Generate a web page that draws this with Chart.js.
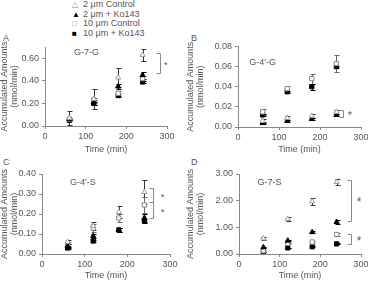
<!DOCTYPE html>
<html>
<head>
<meta charset="utf-8">
<script src="https://cdn.jsdelivr.net/npm/chart.js@4.4.0/dist/chart.umd.min.js"></script>
<style>
body { margin:0; width:373px; height:281px; background:#fff; position:relative; overflow:hidden;
       font-family:"Liberation Sans", Arial, sans-serif; color:#555; }
.panel { position:absolute; }
.lbl { position:absolute; font-size:9px; color:#555; }
#legend { position:absolute; left:72px; top:0px; font-size:9px; line-height:9.5px; color:#555; white-space:nowrap; }
#legend .m { display:inline-block; width:11px; font-size:8px; }
</style>
</head>
<body>
<div id="legend"></div>
<div class="lbl" style="left:3px;top:33px">A</div>
<div class="lbl" style="left:191px;top:33px">B</div>
<div class="lbl" style="left:3px;top:157px">C</div>
<div class="lbl" style="left:191px;top:157px">D</div>
<div class="panel" style="left:0px;top:38px"><canvas id="cA" width="186" height="117"></canvas></div>
<div class="panel" style="left:186px;top:38px"><canvas id="cB" width="187" height="117"></canvas></div>
<div class="panel" style="left:0px;top:160px"><canvas id="cC" width="186" height="121"></canvas></div>
<div class="panel" style="left:186px;top:160px"><canvas id="cD" width="187" height="121"></canvas></div>
<script>
// sampling times (min)
const times = [60, 120, 180, 240];
const seriesNames = ['2 \u03bcm Control', '2 \u03bcm + Ko143', '10 \u03bcm Control', '10 \u03bcm + Ko143'];

// A: G-7-G
const a2Ctrl = [0.07, 0.24, 0.43, 0.63];   const a2CtrlErr = [0.06, 0.09, 0.08, 0.05];
const a2Ko = [0.06, 0.21, 0.35, 0.45];     const a2KoErr = [0.01, 0.02, 0.02, 0.03];
const a10Ctrl = [0.06, 0.23, 0.29, 0.42];  const a10CtrlErr = [0.01, 0.02, 0.02, 0.02];
const a10Ko = [0.05, 0.20, 0.27, 0.39];    const a10KoErr = [0.01, 0.01, 0.01, 0.01];

// B: G-4'-G
const b2Ctrl = [0.006, 0.009, 0.011, 0.015];  const b2CtrlErr = [0.002, 0.002, 0.002, 0.002];
const b2Ko = [0.004, 0.006, 0.008, 0.012];    const b2KoErr = [0.001, 0.001, 0.001, 0.001];
const b10Ctrl = [0.015, 0.038, 0.048, 0.063]; const b10CtrlErr = [0.003, 0.003, 0.005, 0.008];
const b10Ko = [0.012, 0.035, 0.040, 0.060];   const b10KoErr = [0.001, 0.001, 0.003, 0.001];

// C: G-4'-S
const c2Ctrl = [0.06, 0.14, 0.21, 0.31];    const c2CtrlErr = [0.01, 0.02, 0.03, 0.06];
const c2Ko = [0.04, 0.09, 0.12, 0.18];      const c2KoErr = [0.01, 0.01, 0.01, 0.02];
const c10Ctrl = [0.05, 0.13, 0.18, 0.245];  const c10CtrlErr = [0.01, 0.02, 0.02, 0.04];
const c10Ko = [0.03, 0.065, 0.12, 0.165];   const c10KoErr = [0.005, 0.005, 0.01, 0.01];

// D: G-7-S
const d2Ctrl = [0.58, 1.32, 1.97, 2.70];  const d2CtrlErr = [0.05, 0.07, 0.12, 0.12];
const d2Ko = [0.25, 0.50, 0.82, 1.20];    const d2KoErr = [0.02, 0.03, 0.03, 0.07];
const d10Ctrl = [0.12, 0.40, 0.45, 0.73]; const d10CtrlErr = [0.02, 0.03, 0.03, 0.07];
const d10Ko = [0.07, 0.23, 0.27, 0.38];   const d10KoErr = [0.01, 0.01, 0.02, 0.02];

// significance brackets [low, high] per panel
const aBrackets = [[0.47, 0.65]];
const bBrackets = [[0.010, 0.017]];
const cBrackets = [[0.26, 0.33], [0.18, 0.26]];
const dBrackets = [[1.22, 2.78], [0.38, 0.75]];

const markerStyles = [
    { pointStyle: 'triangle', backgroundColor: '#fff', borderColor: '#999', errColor: '#333' },
    { pointStyle: 'triangle', backgroundColor: '#000', borderColor: '#000', errColor: '#000' },
    { pointStyle: 'rect', backgroundColor: '#fff', borderColor: '#888', errColor: '#666' },
    { pointStyle: 'rect', backgroundColor: '#000', borderColor: '#000', errColor: '#000' }
];

// legend
let lg = '';
const glyphs = ['<span class="m" style="color:#888">\u25b3</span>', '<span class="m" style="color:#000">\u25b2</span>',
                '<span class="m" style="color:#888">\u25a1</span>', '<span class="m" style="color:#000">\u25a0</span>'];
for (let i in seriesNames) {
    lg += '<div>' + glyphs[i] + seriesNames[i] + '</div>';
}
document.getElementById('legend').innerHTML = lg;

const errorBars = {
    id: 'errorBars',
    beforeDatasetsDraw(chart) {
        const ctx = chart.ctx, x = chart.scales.x, y = chart.scales.y;
        ctx.save();
        ctx.lineWidth = 1;
        chart.data.datasets.forEach(function (ds) {
            ds.data.forEach(function (p, i) {
                let e = ds.errors[i];
                let px = Math.round(x.getPixelForValue(p.x)) + 0.5;
                let top = Math.round(y.getPixelForValue(p.y + e)) + 0.5;
                let bot = Math.round(y.getPixelForValue(Math.max(p.y - e, 0))) + 0.5;
                ctx.strokeStyle = ds.errColor;
                ctx.beginPath();
                ctx.moveTo(px, top); ctx.lineTo(px, bot);
                ctx.moveTo(px - 2, top); ctx.lineTo(px + 3, top);
                ctx.moveTo(px - 2, bot); ctx.lineTo(px + 3, bot);
                ctx.stroke();
            });
        });
        ctx.restore();
    }
};

const extras = {
    id: 'extras',
    afterDraw(chart) {
        const o = chart.options.plugins.extras;
        const ctx = chart.ctx, x = chart.scales.x, y = chart.scales.y, ca = chart.chartArea;
        ctx.save();
        ctx.fillStyle = '#555';
        ctx.font = '9px "Liberation Sans", Arial, sans-serif';
        ctx.textAlign = 'center';
        ctx.textBaseline = 'middle';
        ctx.fillText(o.title, ca.left + o.titleX * (ca.right - ca.left), ca.top + o.titleY);
        ctx.strokeStyle = '#888';
        ctx.lineWidth = 1;
        o.brackets.forEach(function (b) {
            let bx = Math.round(x.getPixelForValue(o.bracketT)) + 0.5;
            let y1 = Math.round(y.getPixelForValue(b[0])) + 0.5;
            let y2 = Math.round(y.getPixelForValue(b[1])) + 0.5;
            ctx.beginPath();
            ctx.moveTo(bx - 4, y1); ctx.lineTo(bx, y1); ctx.lineTo(bx, y2); ctx.lineTo(bx - 4, y2);
            ctx.stroke();
            ctx.font = o.starSize + 'px "Liberation Sans", Arial, sans-serif';
            ctx.fillText('*', x.getPixelForValue(o.starT), (y1 + y2) / 2 + 2);
        });
        ctx.restore();
    }
};

function makePanel(id, cfg) {
    let sets = [];
    for (let s = 0; s < 4; s++) {
        let pts = [];
        for (let i in times) pts.push({ x: times[i], y: cfg.values[s][i] });
        sets.push(Object.assign({
            label: seriesNames[s],
            data: pts,
            errors: cfg.errors[s],
            pointRadius: 3,
            borderWidth: 1,
            showLine: false
        }, markerStyles[s]));
    }
    const tickFont = { family: '"Liberation Sans", Arial, sans-serif', size: 9 };
    return new Chart(document.getElementById(id), {
        type: 'scatter',
        data: { datasets: sets },
        plugins: [errorBars, extras],
        options: {
            responsive: false,
            animation: false,
            events: [],
            layout: { padding: { top: cfg.padTop, right: cfg.padRight, left: 0, bottom: 0 } },
            plugins: {
                legend: { display: false },
                tooltip: { enabled: false },
                extras: {
                    title: cfg.title, titleX: cfg.titleX, titleY: cfg.titleY,
                    brackets: cfg.brackets, bracketT: cfg.bracketT, starT: cfg.starT, starSize: cfg.starSize
                }
            },
            scales: {
                x: {
                    type: 'linear', min: 0, max: 300,
                    afterFit: function (scale) { scale.height = cfg.xH; },
                    border: { color: '#888' },
                    grid: { drawOnChartArea: false, color: '#888', tickLength: 3 },
                    ticks: { stepSize: 100, color: '#555', font: tickFont, padding: 2, maxRotation: 0 },
                    title: { display: true, text: 'Time (min)', color: '#555', font: tickFont, padding: 0 }
                },
                y: {
                    type: 'linear', min: 0, max: cfg.yMax,
                    afterFit: function (scale) { scale.width = cfg.yW; },
                    afterBuildTicks: function (scale) {
                        scale.ticks = scale.ticks.filter(function (t) {
                            let k = t.value / cfg.yStep;
                            return Math.abs(k - Math.round(k)) < 1e-6;
                        });
                    },
                    border: { color: '#888' },
                    grid: { drawOnChartArea: false, color: '#888', tickLength: 3 },
                    ticks: {
                        stepSize: cfg.yStep, color: '#555', font: tickFont, padding: 3,
                        callback: function (v) { return v.toFixed(2); }
                    },
                    title: {
                        display: true, text: ['Accumulated Amounts', '(nmol/min)'], color: '#555',
                        font: { family: '"Liberation Sans", Arial, sans-serif', size: 9, lineHeight: 1.05 }, padding: 0
                    }
                }
            }
        }
    });
}

makePanel('cA', {
    values: [a2Ctrl, a2Ko, a10Ctrl, a10Ko], errors: [a2CtrlErr, a2KoErr, a10CtrlErr, a10KoErr],
    yMax: 0.7, yStep: 0.2, yW: 45, xH: 29, padTop: 9, padRight: 19,
    title: 'G-7-G', titleX: 0.34, titleY: 6,
    brackets: aBrackets, bracketT: 283, starT: 297, starSize: 9
});
makePanel('cB', {
    values: [b2Ctrl, b2Ko, b10Ctrl, b10Ko], errors: [b2CtrlErr, b2KoErr, b10CtrlErr, b10KoErr],
    yMax: 0.08, yStep: 0.02, yW: 52, xH: 28, padTop: 8, padRight: 12,
    title: "G-4'-G", titleX: 0.2, titleY: 16,
    brackets: bBrackets, bracketT: 256, starT: 273, starSize: 11
});
makePanel('cC', {
    values: [c2Ctrl, c2Ko, c10Ctrl, c10Ko], errors: [c2CtrlErr, c2KoErr, c10CtrlErr, c10KoErr],
    yMax: 0.4, yStep: 0.1, yW: 42, xH: 27, padTop: 14, padRight: 16,
    title: "G-4'-S", titleX: 0.32, titleY: 9,
    brackets: cBrackets, bracketT: 260, starT: 283, starSize: 9
});
makePanel('cD', {
    values: [d2Ctrl, d2Ko, d10Ctrl, d10Ko], errors: [d2CtrlErr, d2KoErr, d10CtrlErr, d10KoErr],
    yMax: 3.0, yStep: 0.5, yW: 53, xH: 27, padTop: 14, padRight: 12,
    title: 'G-7-S', titleX: 0.25, titleY: 9,
    brackets: dBrackets, bracketT: 275, starT: 295, starSize: 12
});
</script>
</body>
</html>
